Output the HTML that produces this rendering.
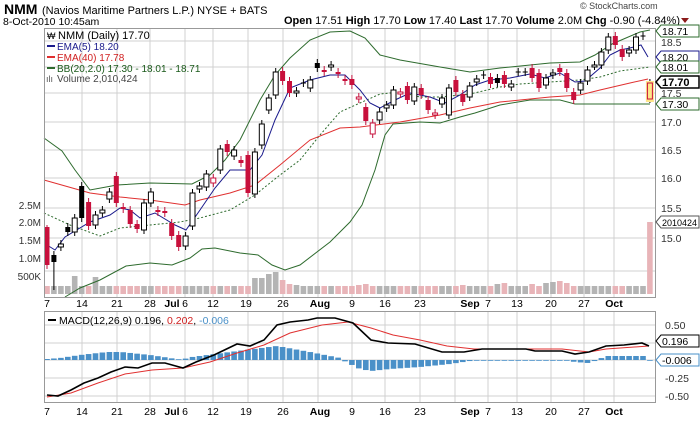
<!DOCTYPE html>
<html><head><meta charset="utf-8"><style>
html,body{margin:0;padding:0;background:#fff;width:700px;height:425px;overflow:hidden}
svg{display:block;font-family:"Liberation Sans",Arial,sans-serif}
</style></head><body>
<svg id="c" width="700" height="425" viewBox="0 0 700 425" xmlns="http://www.w3.org/2000/svg"></svg>
<script>
var s='';
function L(x1,y1,x2,y2,c,w,d){s+='<line x1="'+x1+'" y1="'+y1+'" x2="'+x2+'" y2="'+y2+'" stroke="'+c+'" stroke-width="'+(w||1)+'"'+(d?' stroke-dasharray="'+d+'"':'')+'/>';}
function R(x,y,w,h,f,st){s+='<rect x="'+x+'" y="'+y+'" width="'+w+'" height="'+h+'" fill="'+f+'"'+(st?' stroke="'+st+'" stroke-width="1"':'')+'/>';}
function T(x,y,t,sz,c,extra){s+='<text x="'+x+'" y="'+y+'" font-size="'+sz+'" fill="'+(c||'#000')+'" '+(extra||'')+'>'+t+'</text>';}
function P(pts,c,w,d){s+='<polyline fill="none" stroke="'+c+'" stroke-width="'+(w||1)+'"'+(d?' stroke-dasharray="'+d+'"':'')+' points="'+pts.map(function(p){return p.join(',')}).join(' ')+'"/>';}
var grid='#d0d0d0';
var dates=[[47,'7'],[82,'14'],[117,'21'],[150,'28'],[172,'Jul',1],[185,'6'],[213,'12'],[246,'19'],[283,'26'],[320,'Aug',1],[352,'9'],[385,'16'],[420,'23'],[470,'Sep',1],[488,'7'],[517,'13'],[551,'20'],[584,'27'],[614,'Oct',1]];
[82,117,150,185,213,248,283,318,352,385,420,455,488,517,551,584,614].forEach(function(x){L(x,28,x,297,grid);L(x,311,x,402,grid);});
[41,67,93,122,150,178,208,238,271].forEach(function(y){L(44,y,655,y,grid);});
[325,343,360,378,396].forEach(function(y){L(44,y,655,y,grid);});
var vol={4:18,7:17,30:16,31:16,32:20,33:22,34:14,35:10,36:9,45:9,46:10,52:8,60:9,65:10,66:11,70:10,72:11,73:12,74:13,75:11,87:72};
var C=[[0,'r',227,265],[1,'b',255,262],[2,'w',244,247],[3,'b',227,232],[4,'w',218,232],[5,'b',186,218],[6,'r',202,226],[7,'w',215,225],[8,'w',210,213],[9,'w',192,199],[10,'r',176,203],[11,'r',207,209],[12,'r',210,224],[13,'r',224,229],[14,'w',203,230],[15,'w',192,203],[16,'r',210,212],[17,'r',211,213],[18,'r',223,236],[19,'r',235,247],[20,'w',236,246],[21,'w',193,226],[22,'w',186,189],[23,'w',174,187],[24,'p',178,183],[25,'w',149,170],[26,'r',144,152],[27,'w',150,156],[28,'r',160,163],[29,'r',155,193],[30,'w',152,194],[31,'w',124,145],[32,'w',98,110],[33,'w',72,95],[34,'r',71,81],[35,'r',81,93],[36,'w',91,93],[37,'c',83,83],[38,'w',80,88],[39,'b',63,68],[40,'r',70,72],[41,'w',65,67],[42,'r',72,74],[43,'r',79,81],[44,'r',79,85],[45,'p',97,99],[46,'r',107,121],[47,'p',123,134],[48,'w',112,120],[49,'w',105,108],[50,'w',90,105],[51,'p',92,94],[52,'r',86,100],[53,'w',87,101],[54,'r',88,95],[55,'r',100,110],[56,'p',113,115],[57,'w',98,104],[58,'w',88,115],[59,'r',80,92],[60,'r',94,102],[61,'w',86,97],[62,'w',79,82],[63,'c',75,75],[64,'r',77,84],[65,'b',78,83],[66,'r',75,84],[67,'w',84,87],[68,'c',72,72],[69,'c',72,72],[70,'r',68,78],[71,'r',73,88],[72,'w',78,85],[73,'w',73,75],[74,'r',68,72],[75,'r',73,88],[76,'r',92,100],[77,'w',83,90],[78,'w',70,81],[79,'w',65,66],[80,'w',52,65],[81,'w',37,50],[82,'r',36,45],[83,'r',49,57],[84,'w',50,53],[85,'w',37,50],[86,'c',36,36],[87,'y',83,99]];
function X(n){return +(47+6.93*n).toFixed(1);}
C.forEach(function(c){var x=X(c[0]);var h=vol[c[0]]||8;var col=(c[1]=='r'||c[1]=='p'||c[1]=='y')?'#e8b4b8':'#b4b4b4';R(x-2.8,294-h,5.6,h,col);});
P([[44,138],[62,151],[75,170],[90,190],[117,185],[150,183],[192,184],[210,175],[225,160],[240,140],[260,100],[275,75],[290,58],[310,40],[330,32],[350,31],[365,38],[380,55],[400,60],[440,67],[470,72],[500,68],[550,63],[580,62],[595,55],[612,44],[640,32],[650,30]],'#2e6b2e',1);
P([[65,297],[80,288],[100,280],[126,266],[150,263],[172,265],[190,258],[202,249],[215,248],[240,253],[258,255],[272,265],[285,270],[300,265],[330,242],[350,222],[362,205],[375,170],[385,135],[393,124],[420,122],[440,123],[460,117],[475,113],[500,105],[530,100],[560,100],[575,104],[600,104],[650,104]],'#2e6b2e',1);
P([[44,213],[70,225],[100,236],[120,228],[150,225],[180,222],[200,218],[230,210],[255,195],[280,175],[300,160],[320,135],[340,112],[360,103],[380,94],[400,92],[420,97],[440,97],[470,94],[500,87],[520,84],[550,82],[580,80],[600,77],[620,71],[650,67]],'#2e6b2e',1,'2,2');
P([[44,180],[90,193],[120,197],[150,200],[185,205],[200,200],[230,193],[255,185],[280,165],[310,140],[340,128],[360,127],[400,122],[440,115],[470,108],[500,102],[530,99],[550,97],[580,95],[600,90],[630,83],[648,79]],'#e03030',1);
P([[47,245],[55,250],[65,237],[90,222],[110,215],[120,208],[130,210],[140,218],[155,213],[175,225],[186,230],[200,210],[215,188],[230,170],[250,170],[262,155],[275,120],[290,88],[310,80],[330,75],[345,75],[360,90],[370,103],[380,108],[395,100],[410,93],[430,97],[445,103],[460,95],[475,85],[490,80],[510,78],[530,74],[545,78],[560,73],[575,82],[585,81],[600,68],[610,55],[620,50],[630,48],[641,45],[648,57]],'#1a1a8c',1);
C.forEach(function(c){var x=X(c[0]),t=c[2],b=c[3],k=c[1];
 var wc=(k=='r'||k=='p')?'#c0103c':'#000';
 var lo=b+4,hi=t-4; if(c[0]==1)lo=290; if(c[0]==0){hi=225;}
 L(x,hi,x,lo,wc);
 if(k=='c'){L(x-2.5,t,x+2.5,t,'#000');return;}
 var h=Math.max(b-t,2);
 if(k=='w')R(x-2.5,t,5,h,'#fff','#000');
 else if(k=='b')R(x-2.5,t,5,h,'#000');
 else if(k=='r')R(x-2.5,t,5,h,'#c8103c');
 else if(k=='p')R(x-2.5,t,5,h,'#fff','#c8103c');
 else if(k=='y'){R(x-4,t-2,8,h+5,'#fde68a');R(x-2.5,t,5,h,'#fde68a','#c8103c');}
});
var HX=[[47,-1],[60,-2],[80,-5],[107,-8],[121,-8],[150,-5],[170,-2],[180,0],[192,-3],[230,-8],[277,-14],[310,-8],[340,-2],[346,2],[360,9],[371,11],[390,9],[420,7],[450,4],[470,1],[500,0],[565,0],[575,2],[588,3],[598,0],[605,-4],[630,-4],[645,-4],[650,0.5]];
function hv(x){for(var i=1;i<HX.length;i++){if(x<=HX[i][0]){var a=HX[i-1],b=HX[i];return a[1]+(b[1]-a[1])*(x-a[0])/(b[0]-a[0]);}}return 0;}
for(var n=0;n<=87;n++){var x=X(n),v=hv(x);if(Math.abs(v)<0.6)v=v<0?-0.8:0.8;R(x-2.8,v<0?360+v:360,5.6,Math.abs(v),'#4a90c8');}
P([[47,397],[71,393],[98,383],[125,374],[152,370],[183,368],[210,362],[237,353],[264,345],[290,333],[322,325],[348,322],[371,328],[393,335],[420,340],[447,346],[474,349],[526,349],[562,349],[589,352],[606,349],[649,346]],'#e03030',1);
P([[47,395],[58,396],[71,390],[84,383],[98,378],[111,372],[125,367],[138,368],[152,363],[165,363],[183,368],[196,362],[214,355],[237,344],[250,346],[264,340],[277,325],[290,322],[308,320],[317,318],[335,318],[353,323],[371,340],[388,343],[415,344],[442,352],[464,352],[482,349],[526,349],[535,351],[562,351],[575,354],[589,352],[606,346],[624,345],[642,343],[649,346]],'#000',1.6);
R(44.5,28.5,611,269,'none','#999');R(44.5,311.5,611,91,'none','#999');
T(4,14,'NMM',14,'#000','font-weight="bold"');T(42,14,'(Navios Maritime Partners L.P.) NYSE + BATS',11);
T(580,9,'© StockCharts.com',9,'#444');
T(3,25,'8-Oct-2010 10:45am',10.5);
s+='<text x="680" y="24" font-size="11" text-anchor="end"><tspan font-weight="bold">Open</tspan> 17.51 <tspan font-weight="bold">High</tspan> 17.70 <tspan font-weight="bold">Low</tspan> 17.40 <tspan font-weight="bold">Last</tspan> 17.70 <tspan font-weight="bold">Volume</tspan> 2.0M <tspan font-weight="bold">Chg</tspan> -0.90 (-4.84%)</text>';
s+='<polygon points="681,18 689,18 685,23" fill="#8b1a1a"/>';
T(58,39,'NMM (Daily) 17.70',11);T(47,39,'₩',9);
L(47,46,55,46,'#1a1a8c',2);T(57,50,'EMA(5) 18.20',10,'#1a1a8c');
L(47,57,55,57,'#e03030',2);T(57,61,'EMA(40) 17.78',10,'#d02020');
L(47,68,55,68,'#2e6b2e',2);T(57,72,'BB(20,2.0) 17.30 - 18.01 - 18.71',10,'#1a5a1a');
T(46,82,'ılı',9,'#555');T(57,82,'Volume 2,010,424',10,'#444');
[[42,'18.5'],[93,'17.5'],[122,'17.0'],[150,'16.5'],[178,'16.0'],[208,'15.5'],[238,'15.0']].forEach(function(a){T(661,a[0]+4,a[1],10.5,'#333');});
function tag(y,t,c,b,fs){s+='<polygon points="656,'+y+' 661,'+(y-6)+' 699,'+(y-6)+' 699,'+(y+6)+' 661,'+(y+6)+'" fill="#fff" stroke="'+c+'" stroke-width="'+(b?1.5:1)+'"/>';T(662,y+4,t,fs||(b?11:10.5),'#000',b?'font-weight="bold"':'');}
tag(31,'18.71','#2e6b2e');tag(57,'18.20','#1a1a8c');tag(67,'18.01','#2e6b2e');tag(82,'17.70','#000',1);tag(104,'17.30','#2e6b2e');tag(222,'2010424','#555',0,9);
tag(341,'0.196','#000');tag(360,'-0.006','#4a90c8');
[[325,'0.50'],[378,'-0.25'],[396,'-0.50']].forEach(function(a){T(665,a[0]+4,a[1],10.5,'#333');});
[[205,'2.5M'],[222,'2.0M'],[240,'1.5M'],[258,'1.0M'],[276,'500K']].forEach(function(a){T(41,a[0]+4,a[1],10,'#333','text-anchor="end"');});
dates.forEach(function(d){T(d[0],307,d[1],10.5,'#000','text-anchor="middle"'+(d[2]?' font-weight="bold"':''));T(d[0],415,d[1],10.5,'#000','text-anchor="middle"'+(d[2]?' font-weight="bold"':''));});
L(48,320,56,320,'#000',2);
s+='<text x="59" y="324" font-size="10.5">MACD(12,26,9) 0.196, <tspan fill="#d02020">0.202</tspan>, <tspan fill="#4a90c8">-0.006</tspan></text>';
document.getElementById('c').innerHTML=s;
</script>
</body></html>
